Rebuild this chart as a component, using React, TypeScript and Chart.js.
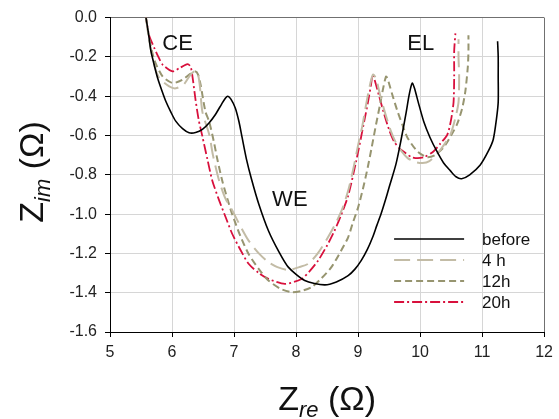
import React, { useEffect, useRef } from "react";
import { Chart, registerables } from "chart.js";

Chart.register(...registerables);

// ---- data (Zre, Zim) in ohm ----
const seriesLabels = ["before", "4 h", "12h", "20h"];

const before: [number, number][] = [
  [5.58, 0.0], [5.62, -0.08], [5.66, -0.17], [5.72, -0.25], [5.77, -0.31], [5.84, -0.375],
  [5.90, -0.426], [5.98, -0.48], [6.06, -0.527], [6.17, -0.565], [6.275, -0.586], [6.38, -0.585],
  [6.49, -0.569], [6.60, -0.535], [6.70, -0.493], [6.80, -0.44], [6.86, -0.41], [6.90, -0.40],
  [6.95, -0.415], [7.02, -0.46], [7.08, -0.53], [7.13, -0.61], [7.20, -0.72], [7.28, -0.82],
  [7.40, -0.95], [7.555, -1.085], [7.72, -1.19], [7.875, -1.27], [8.14, -1.338], [8.46, -1.36],
  [8.65, -1.345], [8.84, -1.313], [8.95, -1.28], [9.05, -1.237], [9.15, -1.18], [9.235, -1.118],
  [9.30, -1.06], [9.37, -1.0], [9.44, -0.93], [9.50, -0.865], [9.61, -0.747], [9.69, -0.628],
  [9.77, -0.493], [9.82, -0.40], [9.85, -0.355], [9.875, -0.333], [9.91, -0.36], [9.97, -0.43],
  [10.06, -0.53], [10.16, -0.61], [10.27, -0.68], [10.38, -0.74], [10.49, -0.78], [10.58, -0.81],
  [10.67, -0.82], [10.80, -0.80], [10.97, -0.75], [11.10, -0.68], [11.18, -0.62], [11.23, -0.52],
  [11.26, -0.43], [11.26, -0.30], [11.26, -0.20], [11.25, -0.12],
];

const h4: [number, number][] = [
  [5.58, 0.0], [5.64, -0.13], [5.72, -0.25], [5.80, -0.31], [5.955, -0.35], [6.06, -0.36],
  [6.19, -0.34], [6.30, -0.29], [6.38, -0.27], [6.42, -0.29], [6.45, -0.35], [6.49, -0.48],
  [6.60, -0.595], [6.66, -0.70], [6.76, -0.83], [6.86, -0.92], [6.97, -0.98], [7.10, -1.06],
  [7.235, -1.135], [7.40, -1.20], [7.555, -1.245], [7.70, -1.27], [7.875, -1.284], [8.05, -1.27],
  [8.195, -1.253], [8.35, -1.20], [8.515, -1.118], [8.65, -1.04], [8.75, -0.97], [8.85, -0.87],
  [8.93, -0.76], [9.00, -0.65], [9.07, -0.55], [9.12, -0.46], [9.18, -0.36], [9.24, -0.29],
  [9.29, -0.31], [9.36, -0.40], [9.44, -0.49], [9.52, -0.57], [9.60, -0.63], [9.70, -0.68],
  [9.80, -0.715], [9.92, -0.735], [10.04, -0.74], [10.15, -0.73], [10.27, -0.695], [10.38, -0.65],
  [10.49, -0.595], [10.57, -0.51], [10.62, -0.43], [10.63, -0.30], [10.62, -0.20], [10.62, -0.11],
];

const h12: [number, number][] = [
  [5.58, 0.0], [5.64, -0.12], [5.72, -0.22], [5.85, -0.30], [6.01, -0.333], [6.17, -0.316],
  [6.30, -0.285], [6.38, -0.274], [6.42, -0.29], [6.46, -0.34], [6.54, -0.48], [6.60, -0.53],
  [6.68, -0.64], [6.73, -0.72], [6.81, -0.83], [6.90, -0.93], [6.97, -1.00], [7.10, -1.11],
  [7.235, -1.203], [7.40, -1.28], [7.555, -1.338], [7.75, -1.38], [7.93, -1.397], [8.10, -1.39],
  [8.25, -1.372], [8.40, -1.33], [8.57, -1.27], [8.72, -1.19], [8.84, -1.118], [8.92, -1.04],
  [9.00, -0.967], [9.08, -0.87], [9.155, -0.764], [9.22, -0.66], [9.29, -0.544], [9.35, -0.45],
  [9.395, -0.375], [9.45, -0.30], [9.475, -0.31], [9.55, -0.39], [9.635, -0.476], [9.72, -0.55],
  [9.795, -0.61], [9.955, -0.68], [10.11, -0.71], [10.24, -0.70], [10.38, -0.66], [10.50, -0.60],
  [10.60, -0.54], [10.68, -0.46], [10.73, -0.375], [10.77, -0.25], [10.78, -0.17], [10.78, -0.09],
];

const h20: [number, number][] = [
  [5.58, 0.0], [5.63, -0.09], [5.715, -0.155], [5.78, -0.20], [5.85, -0.24], [6.01, -0.274],
  [6.12, -0.257], [6.25, -0.237], [6.30, -0.25], [6.33, -0.30], [6.38, -0.42], [6.43, -0.52],
  [6.49, -0.605], [6.57, -0.72], [6.65, -0.83], [6.76, -0.93], [6.87, -1.02], [6.97, -1.10],
  [7.10, -1.18], [7.235, -1.253], [7.40, -1.30], [7.555, -1.33], [7.82, -1.355], [8.09, -1.33],
  [8.22, -1.29], [8.355, -1.237], [8.50, -1.16], [8.62, -1.085], [8.72, -1.01], [8.84, -0.907],
  [8.97, -0.73], [9.10, -0.527], [9.16, -0.43], [9.21, -0.34], [9.235, -0.29], [9.27, -0.32],
  [9.34, -0.40], [9.42, -0.49], [9.50, -0.57], [9.58, -0.63], [9.68, -0.67], [9.77, -0.69],
  [9.86, -0.71], [9.96, -0.715], [10.07, -0.71], [10.22, -0.68], [10.33, -0.64], [10.44, -0.595],
  [10.50, -0.52], [10.54, -0.43], [10.55, -0.30], [10.55, -0.17], [10.57, -0.08],
];

const regionLabels = [
  { text: "CE", x: 6.09, y: -0.135 },
  { text: "WE", x: 7.9, y: -0.93 },
  { text: "EL", x: 10.01, y: -0.135 },
];

const xMin = 5, xMax = 12, xStep = 1;
const yMin = -1.6, yMax = 0, yStep = 0.2;

const FONT = "'Liberation Sans', Arial, Helvetica, sans-serif";

function drawTitle(ctx: CanvasRenderingContext2D, main: string, sub: string, tail: string, cx: number, baseline: number) {
  const big = `34px ${FONT}`;
  const small = `italic 22px ${FONT}`;
  ctx.font = big;
  const w1 = ctx.measureText(main).width;
  const w3 = ctx.measureText(tail).width;
  ctx.font = small;
  const w2 = ctx.measureText(sub).width;
  let x = cx - (w1 + w2 + w3) / 2;
  ctx.textAlign = "left";
  ctx.textBaseline = "alphabetic";
  ctx.font = big;
  ctx.fillText(main, x, baseline);
  x += w1;
  ctx.font = small;
  ctx.fillText(sub, x, baseline + 7);
  x += w2;
  ctx.font = big;
  ctx.fillText(tail, x, baseline);
}

const overlay = {
  id: "overlay",
  afterDatasetsDraw(chart: any) {
    const { ctx, chartArea, scales } = chart;
    ctx.save();
    ctx.fillStyle = "#111";
    ctx.font = `22px ${FONT}`;
    ctx.textAlign = "center";
    ctx.textBaseline = "middle";
    for (const a of regionLabels) {
      ctx.fillText(a.text, scales.x.getPixelForValue(a.x), scales.y.getPixelForValue(a.y));
    }
    // legend
    const x0 = chartArea.right - 150;
    const x1 = chartArea.right - 80;
    const tx = chartArea.right - 62;
    ctx.font = `17px ${FONT}`;
    ctx.textAlign = "left";
    chart.data.datasets.forEach((ds: any, i: number) => {
      const y = chartArea.bottom - 93 + i * 21;
      ctx.strokeStyle = ds.borderColor;
      ctx.lineWidth = ds.borderWidth;
      ctx.setLineDash(ds.borderDash || []);
      ctx.beginPath();
      ctx.moveTo(x0, y);
      ctx.lineTo(x1, y);
      ctx.stroke();
      ctx.setLineDash([]);
      ctx.fillStyle = "#111";
      ctx.fillText(ds.label, tx, y + 1);
    });
    ctx.restore();
  },
  afterDraw(chart: any) {
    const { ctx, chartArea } = chart;
    ctx.save();
    ctx.fillStyle = "#111";
    drawTitle(ctx, "Z", "re", " (\u03A9)", (chartArea.left + chartArea.right) / 2, 410);
    ctx.translate(43, 172);
    ctx.rotate(-Math.PI / 2);
    drawTitle(ctx, "Z", "im", " (\u03A9)", 0, 0);
    ctx.restore();
  },
};

const toPts = (arr: [number, number][]) => arr.map(([x, y]) => ({ x, y }));

export default function App() {
  const ref = useRef<HTMLCanvasElement | null>(null);
  useEffect(() => {
    if (!ref.current) return;
    const chart = new Chart(ref.current, {
      type: "line",
      data: {
        datasets: [
          { label: seriesLabels[0], data: toPts(before), borderColor: "#000000", borderWidth: 1.6, borderDash: [] },
          { label: seriesLabels[1], data: toPts(h4), borderColor: "#c3bca6", borderWidth: 2, borderDash: [16, 7] },
          { label: seriesLabels[2], data: toPts(h12), borderColor: "#979570", borderWidth: 2, borderDash: [7, 4] },
          { label: seriesLabels[3], data: toPts(h20), borderColor: "#d8103c", borderWidth: 1.8, borderDash: [10, 3, 2, 3] },
        ] as any,
      },
      options: {
        animation: false,
        responsive: false,
        devicePixelRatio: 1,
        layout: { padding: { left: 0, right: 11, top: 16, bottom: 0 } },
        elements: { point: { radius: 0 }, line: { tension: 0.25, fill: false } },
        plugins: { legend: { display: false }, tooltip: { enabled: false }, title: { display: false } },
        scales: {
          x: {
            type: "linear",
            min: xMin,
            max: xMax,
            afterFit: (s: any) => { s.height = 87; },
            ticks: { stepSize: xStep, color: "#222", font: { family: FONT, size: 16 }, padding: 6, maxRotation: 0 },
            grid: {
              color: (c: any) => (c.tick && Math.abs(c.tick.value - xMax) < 1e-9 ? "#707070" : "#d6d6d6"),
              lineWidth: 1,
              tickColor: "#000",
              tickLength: 5,
            },
            border: { color: "#000", width: 1 },
          },
          y: {
            type: "linear",
            min: yMin,
            max: yMax,
            afterFit: (s: any) => { s.width = 110; },
            ticks: {
              stepSize: yStep,
              color: "#222",
              font: { family: FONT, size: 16 },
              padding: 8,
              callback: (v: any) => (Math.abs(Number(v)) < 1e-9 ? "0.0" : Number(v).toFixed(1)),
            },
            grid: {
              color: (c: any) => (c.tick && Math.abs(c.tick.value - yMax) < 1e-9 ? "#707070" : "#d6d6d6"),
              lineWidth: 1,
              tickColor: "#000",
              tickLength: 5,
            },
            border: { color: "#000", width: 1 },
          },
        },
      } as any,
      plugins: [overlay],
    });
    return () => chart.destroy();
  }, []);
  return (
    <div style={{ position: "fixed", left: 0, top: 0, width: 559, height: 419, background: "#fff" }}>
      <canvas ref={ref} width={559} height={419} style={{ display: "block", width: 559, height: 419 }} />
    </div>
  );
}
